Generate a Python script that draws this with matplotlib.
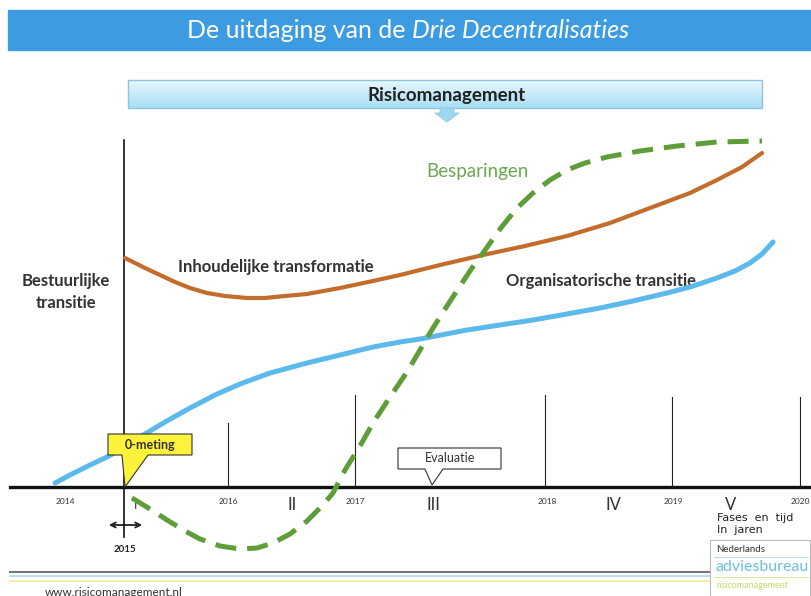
import numpy as np
import matplotlib
matplotlib.use('Agg')
from matplotlib import pyplot as plt
from matplotlib.patches import Rectangle, Polygon
from matplotlib.colors import LinearSegmentedColormap

plt.rcParams['font.family'] = ['Lato', 'DejaVu Sans']

# curves (x, y in picture pixels, y down)
inhoud_x = [125, 135, 145, 160, 175, 190, 207, 225, 247, 265, 285, 307, 340, 373, 400, 440,
            483, 525, 567, 610, 650, 690, 717, 742, 762]
inhoud_y = [258, 263, 268, 275, 282, 288, 293, 296, 298, 298, 296, 294, 288, 281, 275, 265,
            255, 246, 236, 223, 208, 193, 180, 167, 153]

organ_x = [55, 70, 90, 107, 125, 140, 165, 190, 215, 240, 270, 307, 340, 373, 400, 420, 467,
           500, 533, 567, 600, 633, 667, 690, 717, 735, 750, 762, 773]
organ_y = [483, 475, 465, 457, 447, 437, 422, 408, 395, 384, 373, 363, 355, 347, 342, 339, 330,
           325, 320, 314, 308, 301, 293, 287, 278, 271, 263, 254, 242]

bespar_x = [132, 150, 167, 185, 200, 220, 240, 257, 273, 290, 307, 322, 333, 345, 360, 373, 390,
            407, 420, 433, 447, 460, 472, 483, 500, 517, 533, 550, 567, 585, 607, 640, 677, 717, 762]
bespar_y = [498, 509, 520, 531, 539, 546, 549, 548, 543, 534, 521, 506, 493, 470, 446, 423, 397,
            372, 350, 328, 306, 286, 268, 253, 229, 208, 193, 180, 170, 163, 157, 151, 146, 142, 141]

year_labels = ['2014', '2016', '2017', '2018', '2019', '2020']
year_x = [65, 228, 355, 547, 673, 800]
phase_labels = ['I', 'II', 'III', 'IV', 'V']
phase_x = [136, 292, 433, 613, 731]
divider_x = [228, 355, 545, 672, 800]
divider_top = [423, 395, 395, 397, 397]

fig = plt.figure(figsize=(8.11, 5.96), dpi=100)
ax = fig.add_axes([0, 0, 1, 1])
ax.set_xlim(0, 811)
ax.set_ylim(596, 0)
ax.axis('off')

# header band
ax.add_patch(Rectangle((8, 10), 803, 40, color='#3d9be2', zorder=1))
ax.text(412, 31, 'De uitdaging van de ', color='white', fontsize=18,
        ha='right', va='center')
ax.text(412, 31, 'Drie Decentralisaties', color='white', fontsize=18,
        style='italic', ha='left', va='center')

# risicomanagement banner with gradient
grad = np.linspace(0, 1, 50).reshape(-1, 1)
ax.imshow(grad, extent=(128, 762, 108, 80),
          cmap=LinearSegmentedColormap.from_list('b', ['#e8f7fd', '#a9def5']),
          aspect='auto', zorder=2)
ax.add_patch(Rectangle((128, 80), 634, 28, fill=False, edgecolor='#8cc6dc', lw=1, zorder=3))
ax.text(447, 95, 'Risicomanagement', fontsize=13.5, fontweight='bold', color='#222222',
        ha='center', va='center', zorder=4)
ax.add_patch(Polygon([(440, 108), (454, 108), (454, 113), (459, 113), (447, 122), (435, 113), (440, 113)],
                     facecolor='#9dd8f2', edgecolor='#8cc6dc', lw=0.6, zorder=3))

# axes of the diagram
ax.plot([10, 811], [487, 487], color='#111111', lw=2.4, zorder=5)
ax.plot([124, 124], [140, 537], color='#111111', lw=1.2, zorder=5)
for x, top in zip(divider_x, divider_top):
    ax.plot([x, x], [top, 487], color='#222222', lw=0.8, zorder=4)

# curves
ax.plot(inhoud_x, inhoud_y, color='#c36c2c', lw=3, solid_capstyle='round',
        solid_joinstyle='round', zorder=6)
ax.plot(organ_x, organ_y, color='#5bb9ec', lw=3.6, solid_capstyle='round',
        solid_joinstyle='round', zorder=6)
ax.plot(bespar_x, bespar_y, color='#5e9e38', lw=3.6, linestyle=(0, (4.2, 2.2)), zorder=7)

# labels
ax.text(66, 292, 'Bestuurlijke\ntransitie', fontsize=12, fontweight='bold', color='#333333',
        ha='center', va='center', linespacing=1.4)
ax.text(276, 267, 'Inhoudelijke transformatie', fontsize=12, fontweight='bold', color='#333333',
        ha='center', va='center')
ax.text(601, 281, 'Organisatorische transitie', fontsize=12, fontweight='bold', color='#333333',
        ha='center', va='center')
ax.text(477, 171, 'Besparingen', fontsize=13.5, color='#6aa84f', ha='center', va='center')

for lab, x in zip(year_labels, year_x):
    ax.text(x, 502, lab, fontsize=6, color='#333333', ha='center', va='center')
for lab, x in zip(phase_labels, phase_x):
    ax.text(x, 505, lab, fontsize=12 if lab != 'I' else 9, color='#333333', ha='center', va='center')

ax.text(125, 550, '2015', fontsize=7, fontweight='bold', color='#222222', ha='center', va='center')
ax.annotate('', xy=(106, 525), xytext=(145, 525),
            arrowprops=dict(arrowstyle='<->', color='#222222', lw=1.3, mutation_scale=9))

ax.text(717, 513, 'Fases  en  tijd\nIn  jaren', fontsize=8, color='#222222', ha='left', va='top',
        family='DejaVu Sans', linespacing=1.2)

# callouts
ax.add_patch(Polygon([(108, 434), (192, 434), (192, 455), (148, 455), (125, 487), (122, 455), (108, 455)],
                     facecolor='#fff23a', edgecolor='#333333', lw=0.8, zorder=8))
ax.text(150, 445, '0-meting', fontsize=9, fontweight='bold', color='#333333', ha='center', va='center', zorder=9)
ax.add_patch(Polygon([(398, 448), (501, 448), (501, 469), (443, 469), (432, 485), (425, 469), (398, 469)],
                     facecolor='white', edgecolor='#333333', lw=0.8, zorder=8))
ax.text(450, 458, 'Evaluatie', fontsize=9, color='#333333', ha='center', va='center', zorder=9)

# footer
ax.plot([10, 811], [572, 572], color='#777777', lw=1.5)
ax.plot([10, 811], [576, 576], color='#a9d8f0', lw=1.2)
ax.plot([10, 811], [581, 581], color='#eef3b0', lw=1.5)
ax.text(45, 592, 'www.risicomanagement.nl', fontsize=8.5, color='#333333', ha='left', va='center')

ax.add_patch(Rectangle((710, 540), 100, 56, facecolor='white', edgecolor='#bbbbbb', lw=0.8, zorder=10))
ax.text(716, 549, 'Nederlands', fontsize=7, color='#333333', ha='left', va='center', zorder=11)
ax.plot([714, 808], [557, 557], color='#a9d8f0', lw=0.6, zorder=11)
ax.text(716, 567, 'adviesbureau', fontsize=11.5, color='#6ebfe0', ha='left', va='center', zorder=11)
ax.plot([714, 808], [577, 577], color='#d5e58a', lw=0.6, zorder=11)
ax.text(716, 586, 'risicomanagement', fontsize=6.5, color='#c8d96a', ha='left', va='center', zorder=11)

plt.savefig('out.png', dpi=100)
